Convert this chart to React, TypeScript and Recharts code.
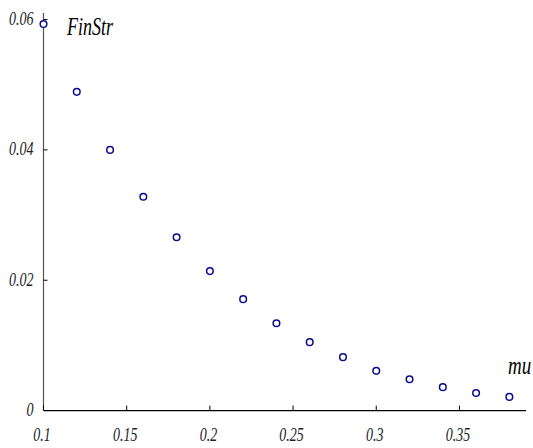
import React from "react";
import { ScatterChart, Scatter, XAxis, YAxis } from "recharts";

const muValues = [0.1, 0.12, 0.14, 0.16, 0.18, 0.2, 0.22, 0.24, 0.26, 0.28, 0.3, 0.32, 0.34, 0.36, 0.38];
const finStrValues = [0.0593, 0.0489, 0.04, 0.0328, 0.0266, 0.0214, 0.0171, 0.0134, 0.0105, 0.0082, 0.0061, 0.0048, 0.0036, 0.0027, 0.0021];
const xTicks = [0.1, 0.15, 0.2, 0.25, 0.3, 0.35];
const xTickLabels = ["0.1", "0.15", "0.2", "0.25", "0.3", "0.35"];
const yTicks = [0, 0.02, 0.04, 0.06];
const yTickLabels = ["0", "0.02", "0.04", "0.06"];

const data = muValues.map((m, i) => ({ mu: m, finStr: finStrValues[i] }));

const textStyle: React.CSSProperties = {
  fontFamily: '"Liberation Serif", "Times New Roman", "DejaVu Serif", serif',
  fontStyle: "italic",
};

const XTick = (props: any) => {
  const { x, y, payload } = props;
  const idx = xTicks.findIndex((t) => Math.abs(t - payload.value) < 1e-9);
  const label = idx >= 0 ? xTickLabels[idx] : String(payload.value);
  return (
    <g>
      <line x1={x} y1={y} x2={x} y2={y - 5} stroke="#000" strokeWidth={1} />
      <text
        transform={`translate(${x - 1.5},${y + 30.5}) scale(1,1.35)`}
        textAnchor="middle"
        style={{ ...textStyle, fontSize: 14 }}
        fill="#222"
      >
        {label}
      </text>
    </g>
  );
};

const YTick = (props: any) => {
  const { x, y, payload } = props;
  const idx = yTicks.findIndex((t) => Math.abs(t - payload.value) < 1e-9);
  const label = idx >= 0 ? yTickLabels[idx] : String(payload.value);
  return (
    <g>
      {payload.value !== 0 && <line x1={x} y1={y} x2={x + 4} y2={y} stroke="#000" strokeWidth={1} />}
      <text
        transform={`translate(${x - 10},${y + 5.5}) scale(1,1.3)`}
        textAnchor="end"
        style={{ ...textStyle, fontSize: 14 }}
        fill="#222"
      >
        {label}
      </text>
    </g>
  );
};

const Dot = (props: any) => {
  const { cx, cy } = props;
  return <circle cx={cx} cy={cy} r={3.3} fill="#fff" stroke="#0a0a8c" strokeWidth={1.5} />;
};

export default function App() {
  return (
    <div style={{ position: "absolute", left: 0, top: 0, background: "#fff" }}>
      <ScatterChart width={533} height={448} margin={{ top: 13, right: 7, bottom: 0, left: 0 }}>
        <XAxis
          type="number"
          dataKey="mu"
          domain={[0.1, 0.39]}
          ticks={xTicks}
          height={37.4}
          tickSize={0}
          tickMargin={0}
          tick={<XTick />}
          axisLine={{ stroke: "#000", strokeWidth: 1.2 }}
          tickLine={false}
          label={{
            content: (p: any) => {
              const vb = p.viewBox;
              return (
                <text
                  transform={`translate(${vb.x + vb.width - 18},${vb.y - 36.5}) scale(1,1.35)`}
                  style={{ ...textStyle, fontSize: 19 }}
                  fill="#000"
                >
                  mu
                </text>
              );
            },
          }}
        />
        <YAxis
          type="number"
          dataKey="finStr"
          domain={[0, 0.061]}
          ticks={yTicks}
          width={43.5}
          tickSize={0}
          tickMargin={0}
          tick={<YTick />}
          axisLine={{ stroke: "#555", strokeWidth: 1.2 }}
          tickLine={false}
          label={{
            content: (p: any) => {
              const vb = p.viewBox;
              return (
                <text
                  transform={`translate(${vb.x + vb.width + 23.5},${vb.y + 22}) scale(1,1.35)`}
                  style={{ ...textStyle, fontSize: 18 }}
                  fill="#000"
                >
                  FinStr
                </text>
              );
            },
          }}
        />
        <Scatter data={data} shape={<Dot />} isAnimationActive={false} />
      </ScatterChart>
    </div>
  );
}
